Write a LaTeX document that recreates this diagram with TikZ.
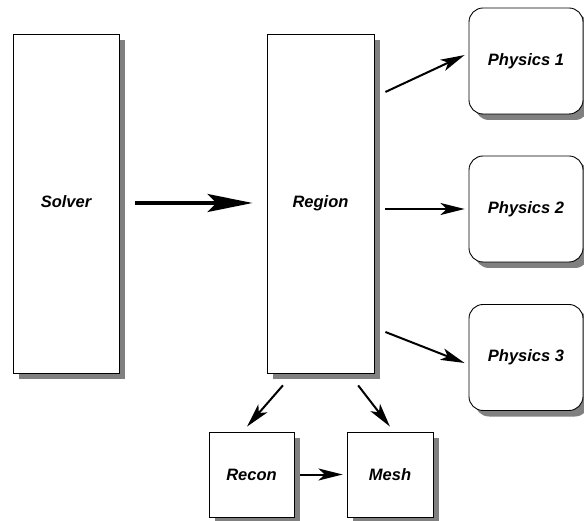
\documentclass[tikz,border=0pt]{standalone}
\usepackage{fontspec}
\setmainfont{Liberation Sans}
\usetikzlibrary{arrows.meta,shadows}
\begin{document}
\begin{tikzpicture}[x=1pt,y=-1pt,
  boxshadow/.style={drop shadow={shadow xshift=6pt,shadow yshift=-6pt,fill=black!50,opacity=1}},
  module/.style={draw=black,line width=0.9pt,fill=white,boxshadow,
    font=\fontsize{16.5}{18}\selectfont\bfseries\itshape,inner sep=0pt},
  physbox/.style={module,rounded corners=14pt,minimum width=114pt,minimum height=106pt},
  link/.style={line width=2pt,-{Stealth[length=24pt,width=12pt,inset=6pt]}},
  mainlink/.style={line width=3.5pt,-{Stealth[length=45pt,width=18pt,inset=9pt]}}]
\useasboundingbox (0,0) rectangle (584,521);

% solver and region columns (labels sit slightly above centre)
\node[module,minimum width=106pt,minimum height=339pt] (solver) at (66,203.5) {\raisebox{4pt}{Solver}};
\node[module,minimum width=107pt,minimum height=339pt] (region) at (320.5,203.5) {\raisebox{4pt}{Region}};

% physics packages
\node[physbox] (phys1) at (526,61) {Physics 1};
\node[physbox] (phys2) at (526,209) {\raisebox{-1.5pt}{Physics 2}};
\node[physbox] (phys3) at (526,357.5) {Physics 3};

% lower modules
\node[module,minimum width=85pt,minimum height=85pt] (recon) at (251.5,474.5) {Recon};
\node[module,minimum width=86pt,minimum height=85pt] (mesh) at (390,474.5) {Mesh};

% connectors
\draw[mainlink,shorten <=16pt,shorten >=14pt] ([yshift=0.5pt]solver.east) -- ([yshift=0.5pt]region.west);
\draw[link,shorten <=12.1pt,shorten >=4.4pt] ([yshift=106.4pt]region.east) -- ([yshift=7.8pt]phys1.west);
\draw[link,shorten <=11pt,shorten >=4pt] ([yshift=-5.5pt]region.east) -- (phys2.west);
\draw[link,shorten <=11.8pt,shorten >=4.3pt] ([yshift=-124.2pt]region.east) -- ([yshift=-7.05pt]phys3.west);
\draw[link,shorten <=15.8pt,shorten >=6.6pt] ([xshift=-27.2pt]region.south) -- ([xshift=-8.8pt]recon.north);
\draw[link,shorten <=15.1pt,shorten >=6.3pt] ([xshift=28.4pt]region.south) -- ([xshift=3.8pt]mesh.north);
\draw[link,shorten <=6pt,shorten >=4pt] (recon.east) -- (mesh.west);
\end{tikzpicture}
\end{document}
